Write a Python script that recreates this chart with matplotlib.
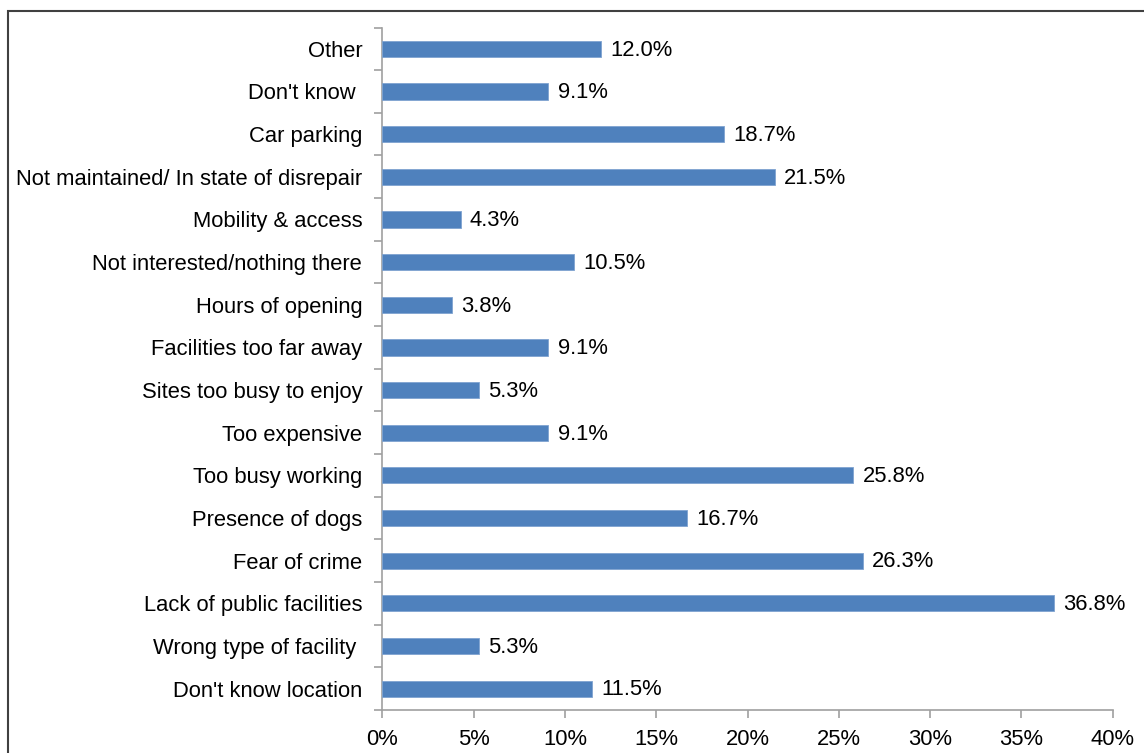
import matplotlib
matplotlib.use("Agg")
import matplotlib.pyplot as plt
from matplotlib.patches import Rectangle
from matplotlib.ticker import FixedLocator, FuncFormatter

plt.rcParams["font.family"] = ["Liberation Sans", "DejaVu Sans"]

# Reasons listed top to bottom
categories = [
    "Other",
    "Don't know ",
    "Car parking",
    "Not maintained/ In state of disrepair",
    "Mobility & access",
    "Not interested/nothing there",
    "Hours of opening",
    "Facilities too far away",
    "Sites too busy to enjoy",
    "Too expensive",
    "Too busy working",
    "Presence of dogs",
    "Fear of crime",
    "Lack of public facilities",
    "Wrong type of facility ",
    "Don't know location",
]
percentages = [12.0, 9.1, 18.7, 21.5, 4.3, 10.5, 3.8, 9.1, 5.3, 9.1,
               25.8, 16.7, 26.3, 36.8, 5.3, 11.5]
x_ticks = [0, 5, 10, 15, 20, 25, 30, 35, 40]

FS = 15.8
W, H = 1144, 753
fig = plt.figure(figsize=(W / 100, H / 100), dpi=100)
ax = fig.add_axes([382.3 / W, 1 - 710 / H, (1112.7 - 382.3) / W, (710 - 27.5) / H])

ypos = list(range(len(categories)))
ax.barh(ypos, percentages, height=0.38, color="#4F81BD",
        edgecolor="#7FA3D0", linewidth=0.6, zorder=3)

for y, v in zip(ypos, percentages):
    ax.text(v + 0.5, y + 0.03, f"{v:.1f}%", va="center", ha="left",
            fontsize=FS, color="black")

ax.set_xlim(0, 40)
ax.set_ylim(len(categories) - 0.5, -0.5)

ax.xaxis.set_major_locator(FixedLocator(x_ticks))
ax.xaxis.set_major_formatter(FuncFormatter(lambda v, p: f"{v:.0f}%"))
ax.set_yticks(ypos)
ax.set_yticklabels(categories)
ax.yaxis.set_minor_locator(FixedLocator([i - 0.5 for i in range(len(categories) + 1)]))

spine_col = "#A0A0A0"
for side in ("top", "right"):
    ax.spines[side].set_visible(False)
for side in ("left", "bottom"):
    ax.spines[side].set_color(spine_col)
    ax.spines[side].set_linewidth(1.2)

ax.tick_params(axis="y", which="major", length=0, pad=14.5, labelsize=FS)
ax.tick_params(axis="y", which="minor", length=6, width=1.2, color=spine_col, direction="out")
ax.tick_params(axis="x", which="major", length=6, width=1.2, color=spine_col,
               direction="out", pad=8, labelsize=FS)

# Chart-area frame
fig.patches.append(Rectangle((8 / W, -0.05), 1.2, 1 - 11 / H + 0.05,
                             transform=fig.transFigure, fill=False,
                             edgecolor="#404040", linewidth=1.5))

fig.savefig("out.png", dpi=100)
